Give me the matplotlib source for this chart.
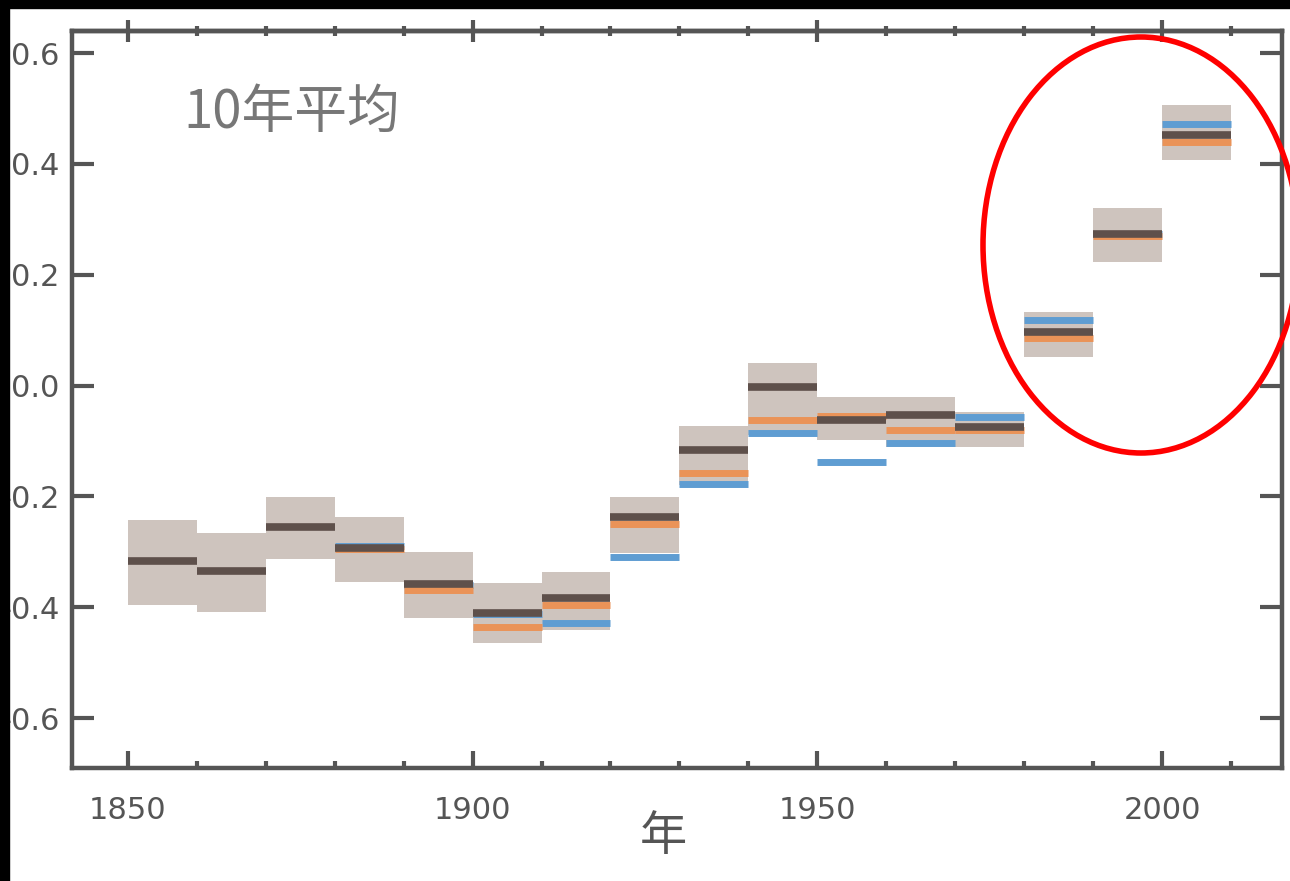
import matplotlib
matplotlib.use("Agg")
import matplotlib.pyplot as plt
from matplotlib.patches import Ellipse, Rectangle
import numpy as np

plt.rcParams['font.family'] = ['Noto Sans CJK SC', 'DejaVu Sans']

# decadal means (start year of each decade)
decades = np.arange(1850, 2010, 10)
# dark series with its grey uncertainty band
had    = [-0.316, -0.334, -0.255, -0.293, -0.358, -0.410, -0.384, -0.237,
          -0.116, -0.002, -0.062, -0.053, -0.074, 0.097, 0.273, 0.452]
had_lo = [-0.396, -0.408, -0.313, -0.355, -0.420, -0.465, -0.441, -0.302,
          -0.180, -0.089, -0.098, -0.110, -0.110, 0.052, 0.224, 0.407]
had_hi = [-0.243, -0.266, -0.201, -0.237, -0.300, -0.357, -0.336, -0.201,
          -0.073, 0.040, -0.020, -0.020, -0.047, 0.133, 0.320, 0.506]
# orange and blue series (start 1880)
orange = [np.nan, np.nan, np.nan, -0.295, -0.369, -0.435, -0.395, -0.250,
          -0.157, -0.062, -0.055, -0.080, -0.080, 0.086, 0.270, 0.440]
blue   = [np.nan, np.nan, np.nan, -0.290, -0.360, -0.412, -0.429, -0.309,
          -0.177, -0.086, -0.137, -0.104, -0.056, 0.118, 0.273, 0.473]

xticks = [1850, 1900, 1950, 2000]
yticks = [-0.6, -0.4, -0.2, 0.0, 0.2, 0.4, 0.6]
ylabels = ["-0.6", "-0.4", "-0.2", "0.0", "0.2", "0.4", "0.6"]

W, H = 1290, 881
fig = plt.figure(figsize=(W/100, H/100), dpi=100)
fig.patch.set_facecolor("white")
ax = fig.add_axes([72/W, 1-768/H, (1282-72)/W, (768-31)/H])

lo = np.array(had_lo)
hi = np.array(had_hi)
ax.bar(decades, hi-lo, bottom=lo, width=10, align='edge', color="#cec4be",
       edgecolor='none', zorder=1)
ax.hlines(blue, decades, decades+10, colors="#5f9dd2", linewidth=5.0,
          capstyle='butt', zorder=2)
ax.hlines(orange, decades, decades+10, colors="#ea9358", linewidth=5.0,
          capstyle='butt', zorder=3)
ax.hlines(had, decades, decades+10, colors="#5e504b", linewidth=5.5,
          capstyle='butt', zorder=4)

ax.set_xlim(1841.9, 2017.4)
ax.set_ylim(-0.690, 0.640)

spine_col = "#555555"
for s in ax.spines.values():
    s.set_linewidth(3.2)
    s.set_color(spine_col)

ax.set_xticks(xticks)
ax.set_xticks(np.arange(1850, 2020, 10), minor=True)
ax.set_yticks(yticks)
ax.set_yticklabels(ylabels)
ax.tick_params(axis='x', which='major', direction='in', length=12, width=3,
               color=spine_col, labelsize=22, labelcolor="#555555", pad=20,
               top=False, bottom=True)
ax.tick_params(axis='x', which='minor', direction='in', length=5, width=3,
               color=spine_col, top=False, bottom=True)
ax.tick_params(axis='y', which='major', direction='in', length=16, width=3,
               color=spine_col, labelsize=22, labelcolor="#555555", pad=9,
               left=True, right=True)
for lab in ax.get_xticklabels() + ax.get_yticklabels():
    lab.set_family('DejaVu Sans')

# top axis: ticks sit across the spine
top = ax.secondary_xaxis('top')
top.set_xticks(xticks)
top.set_xticks(np.arange(1850, 2020, 10), minor=True)
top.set_xticklabels([])
top.spines['top'].set_linewidth(3.2)
top.spines['top'].set_color(spine_col)
top.tick_params(axis='x', which='major', direction='inout', length=16,
                width=3, color=spine_col)
top.tick_params(axis='x', which='minor', direction='inout', length=7,
                width=3, color=spine_col)

ax.text(0.0917, 0.889, "10年平均", transform=ax.transAxes, fontsize=38,
        color="#777777", ha='left', va='center')
fig.text(663/W, 1-837/H, "年", fontsize=34, color="#555555",
         ha='center', va='center')

# red ellipse highlighting the last decades
fig.add_artist(Ellipse((1141/W, 1-245/H), 316/W, 416/H, fill=False,
                       edgecolor="#ff0000", linewidth=4,
                       transform=fig.transFigure, zorder=20))

# black borders of the screenshot
fig.add_artist(Rectangle((0, 0), 9/W, 1, transform=fig.transFigure,
                         color="black", zorder=30))
fig.add_artist(Rectangle((0, 1-8/H), 1, 8/H, transform=fig.transFigure,
                         color="black", zorder=30))

fig.savefig("out.png", dpi=100)
